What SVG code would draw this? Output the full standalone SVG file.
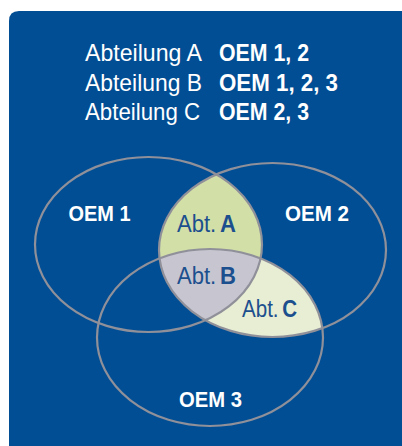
<svg xmlns="http://www.w3.org/2000/svg" width="402" height="446" viewBox="0 0 402 446">
<style>
.hd{font-family:"Liberation Sans",Arial,sans-serif;font-size:24.5px;fill:#ffffff}
.hb{font-family:"Liberation Sans",Arial,sans-serif;font-size:23.5px;font-weight:bold;fill:#ffffff}
.oem{font-family:"Liberation Sans",Arial,sans-serif;font-size:21.5px;font-weight:bold;fill:#ffffff}
.abt{font-family:"Liberation Sans",Arial,sans-serif;font-size:23px;fill:#1c4f8e}
.abt tspan{font-weight:bold}
.ring{fill:none;stroke:#8f9099;stroke-width:2.2}
</style>
<defs>
<clipPath id="c1"><ellipse cx="148.5" cy="244.5" rx="113.5" ry="87.5"/></clipPath>
<clipPath id="c2"><ellipse cx="272.5" cy="250" rx="113.5" ry="87"/></clipPath>
<clipPath id="c3"><ellipse cx="210" cy="337.5" rx="113" ry="88.5"/></clipPath>
</defs>
<rect width="402" height="446" fill="#ffffff"/>
<path d="M9 446 V21 Q9 11 19 11 H402 V446 Z" fill="#024e94"/>
<g id="legend">
<text class="hd" x="85" y="61" textLength="117" lengthAdjust="spacingAndGlyphs">Abteilung A</text>
<text class="hd" x="85" y="90.5" textLength="117" lengthAdjust="spacingAndGlyphs">Abteilung B</text>
<text class="hd" x="85" y="120" textLength="115" lengthAdjust="spacingAndGlyphs">Abteilung C</text>
<text class="hb" x="219" y="61" textLength="90" lengthAdjust="spacingAndGlyphs">OEM 1, 2</text>
<text class="hb" x="219" y="90.5" textLength="119" lengthAdjust="spacingAndGlyphs">OEM 1, 2, 3</text>
<text class="hb" x="219" y="120" textLength="90" lengthAdjust="spacingAndGlyphs">OEM 2, 3</text>
</g>
<g id="fills">
<g clip-path="url(#c2)"><ellipse cx="210" cy="337.5" rx="113" ry="88.5" fill="#e7eed3"/></g>
<g clip-path="url(#c2)"><ellipse cx="148.5" cy="244.5" rx="113.5" ry="87.5" fill="#d2dfa7"/></g>
<g clip-path="url(#c2)"><g clip-path="url(#c3)"><ellipse cx="148.5" cy="244.5" rx="113.5" ry="87.5" fill="#c7c6d0"/></g></g>
</g>
<g id="oem1"><ellipse class="ring" cx="148.5" cy="244.5" rx="113.5" ry="87.5"/><text class="oem" x="68.5" y="221" textLength="62" lengthAdjust="spacingAndGlyphs">OEM 1</text></g>
<g id="oem2"><ellipse class="ring" cx="272.5" cy="250" rx="113.5" ry="87"/><text class="oem" x="285" y="221" textLength="64" lengthAdjust="spacingAndGlyphs">OEM 2</text></g>
<g id="oem3"><ellipse class="ring" cx="210" cy="337.5" rx="113" ry="88.5"/><text class="oem" x="179" y="407" textLength="63" lengthAdjust="spacingAndGlyphs">OEM 3</text></g>
<g id="abtA"><text class="abt" x="177" y="231.5" textLength="59" lengthAdjust="spacingAndGlyphs">Abt.<tspan dx="4">A</tspan></text></g>
<g id="abtB"><text class="abt" x="177" y="284" textLength="59" lengthAdjust="spacingAndGlyphs">Abt.<tspan dx="4">B</tspan></text></g>
<g id="abtC"><text class="abt" x="242" y="316.5" textLength="55" lengthAdjust="spacingAndGlyphs">Abt.<tspan dx="4">C</tspan></text></g>
<g id="connectors"/>
</svg>
